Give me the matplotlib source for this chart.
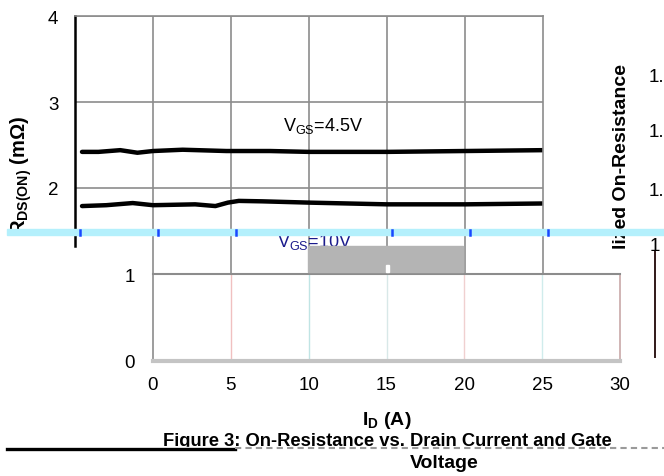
import matplotlib
matplotlib.use("Agg")
import matplotlib.pyplot as plt
from matplotlib.patches import Rectangle

plt.rcParams['font.family'] = ['Liberation Sans', 'DejaVu Sans']
plt.rcParams['mathtext.fontset'] = 'custom'
plt.rcParams['mathtext.rm'] = 'Liberation Sans'
plt.rcParams['mathtext.bf'] = 'Liberation Sans:bold'

id_45 = [0.45, 1.5, 2.9, 4.0, 5.0, 6.9, 9.7, 12.5, 15, 20, 25, 30]
r_45 = [2.42, 2.42, 2.44, 2.41, 2.43, 2.445, 2.43, 2.43, 2.42, 2.42, 2.43, 2.44]
id_10 = [0.45, 2, 3.7, 5, 7.7, 9.0, 9.8, 10.5, 12, 15, 20, 25, 30]
r_10 = [1.79, 1.80, 1.825, 1.80, 1.81, 1.79, 1.83, 1.85, 1.845, 1.83, 1.81, 1.81, 1.82]
x_ticks = [0, 5, 10, 15, 20, 25, 30]
y_ticks_top = [2, 3, 4]
y_ticks_bottom = [0, 1]
right_ticks = ["1.", "1.", "1."]

W, H = 664, 477
GRID = '#8c8c8c'
TICK_FS = 13.5


def box(left, top, right, bottom):
    return [left / W, 1 - bottom / H, (right - left) / W, (bottom - top) / H]


fig = plt.figure(figsize=(W / 100, H / 100), dpi=100)

# upper part of the chart (shifted left in the scan)
ax = fig.add_axes(box(75, 17, 543, 275))
ax.set_xlim(0, 30)
ax.set_ylim(1, 4)
ax.plot(id_45, r_45, color='black', lw=3.2, solid_capstyle='round')
ax.plot(id_10, r_10, color='black', lw=3.2, solid_capstyle='round')
ax.set_xticks(x_ticks[1:-1])
ax.set_yticks(y_ticks_top)
ax.set_yticklabels([str(v) for v in y_ticks_top], fontsize=TICK_FS)
ax.tick_params(length=0, pad=12, labelbottom=False)
ax.grid(True, color=GRID, lw=1.2)
for s in ['top', 'right']:
    ax.spines[s].set_color(GRID)
    ax.spines[s].set_linewidth(1.2)
ax.spines['bottom'].set_visible(False)
ax.spines['left'].set_linewidth(1.8)
ax.spines['left'].set_bounds(1.33, 4)

# lower part of the chart
ax2 = fig.add_axes(box(153, 275, 620, 362))
ax2.set_xlim(0, 30)
ax2.set_ylim(0, 1)
ax2.set_xticks(x_ticks)
ax2.set_xticklabels([str(v) for v in x_ticks], fontsize=TICK_FS)
ax2.set_yticks(y_ticks_bottom)
ax2.set_yticklabels([str(v) for v in y_ticks_bottom], fontsize=TICK_FS)
ax2.tick_params(length=0)
ax2.tick_params(axis='x', pad=11)
ax2.tick_params(axis='y', pad=13)
faint = ['#f0c0c0', '#c0e4e4', '#d8e8e8', '#f0d0d0', '#d0ecec']
for x, c in zip(x_ticks[1:-1], faint):
    ax2.axvline(x, color=c, lw=1)
ax2.spines['top'].set_color(GRID)
ax2.spines['top'].set_linewidth(1.5)
ax2.spines['left'].set_color(GRID)
ax2.spines['left'].set_linewidth(1.2)
ax2.spines['right'].set_color('#c8a8a8')
ax2.spines['right'].set_linewidth(1.2)
ax2.spines['bottom'].set_color('#c4c4c4')
ax2.spines['bottom'].set_linewidth(3)

# overlay in pixel units for labels and scan artefacts
ov = fig.add_axes([0, 0, 1, 1], zorder=10)
ov.set_xlim(0, W)
ov.set_ylim(H, 0)
ov.axis('off')
ov.patch.set_visible(False)

ov.text(387, 421, 'I$_\\mathbf{D}$ (A)', fontsize=14, fontweight='bold',
        ha='center', va='center')

ov.text(283, 126, 'V$_{\\mathrm{GS}}$=4.5V', fontsize=13, va='center', ha='left', zorder=3)
ov.text(277, 242, 'V$_{\\mathrm{GS}}$=10V', fontsize=13, va='center', ha='left',
        color='#1a1a8c', zorder=3)
ov.add_patch(Rectangle((308, 247), 155, 26, color='#b4b4b4', zorder=4))
ov.add_patch(Rectangle((386, 266), 2.5, 7, color='white', zorder=4))

ov.text(21, 235, 'R$_{\\mathbf{DS(ON)}}$ (m\u03a9)', rotation=90, fontsize=14.5,
        fontweight='bold', ha='center', va='bottom', zorder=3)
ov.text(621, 249, 'lized On-Resistance', rotation=90, fontsize=14,
        fontweight='bold', ha='center', va='bottom', zorder=3)
for y, t in zip([78, 133, 192], right_ticks):
    ov.text(649, y, t, fontsize=TICK_FS, ha='left', va='center')
ov.text(650, 247, '1', fontsize=TICK_FS, ha='left', va='center')
ov.plot([654.5, 654.5], [252, 358], color='#301818', lw=1.4)

# cyan scan band with blue marks
ov.add_patch(Rectangle((7, 230), W - 7, 6, color='#b4f0fc', zorder=5))
for x in [80, 158, 236, 392, 470, 548]:
    ov.plot([x, x], [230.5, 235.5], color='#1848ff', lw=1.8, zorder=6)

# caption with torn lower half
ov.text(163, 433, 'Figure 3: On-Resistance vs. Drain Current and Gate', fontsize=13.2,
        fontweight='bold', ha='left', va='top', zorder=3)
ov.add_patch(Rectangle((150, 448), W - 150, 5, color='white', zorder=4))
ov.plot([7, 235], [450, 450], color='black', lw=2.4, zorder=5)
ov.plot([235, W], [449, 449], color='#9a9a9a', lw=1.5, ls=(0, (3, 2)), zorder=5)
ov.text(444, 464, 'Voltage', fontsize=14, fontweight='bold', ha='center', va='center',
        zorder=6)

fig.savefig('out.png', dpi=100)
